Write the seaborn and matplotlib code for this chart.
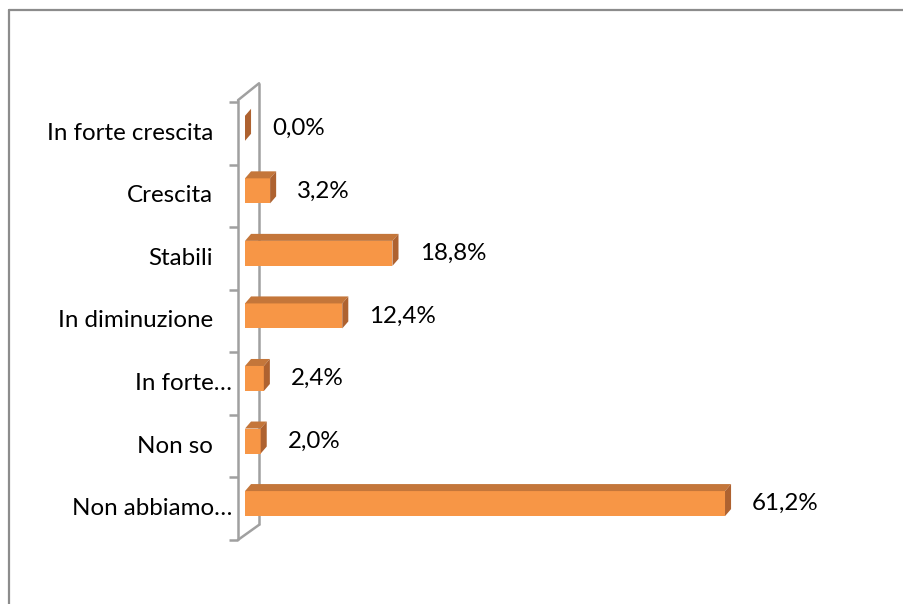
import matplotlib
matplotlib.use("Agg")
import matplotlib.pyplot as plt
from matplotlib.patches import Polygon
from matplotlib.lines import Line2D
import numpy as np
import pandas as pd
import seaborn as sns

# Survey answers and their shares (%)
categories = ["In forte crescita", "Crescita", "Stabili", "In diminuzione",
              "In forte…", "Non so", "Non abbiamo…"]
values = [0.0, 3.2, 18.8, 12.4, 2.4, 2.0, 61.2]

FRONT = "#F79646"
TOP = "#C4763A"
SIDE = "#AE6230"
WALL = "#A0A0A0"
FS = 17.4

sns.set_theme(style="white")
plt.rcParams["font.family"] = ["Lato", "DejaVu Sans"]

fig = plt.figure(figsize=(9.04, 6.04), dpi=100)
ax = fig.add_axes([200 / 904, 44 / 604, 660 / 904, 500 / 604])

df = pd.DataFrame({"categoria": categories, "valore": values})
sns.barplot(data=df, x="valore", y="categoria", orient="h", color=FRONT,
            saturation=1, width=0.4, ax=ax, zorder=3, edgecolor="none")

ax.set_xlim(-5.738, 78.41)
ax.set_ylim(6.902, -1.092)

# pseudo-3D faces on each bar (depth offset in data units)
dx, dy = 0.77, -0.112
for p in ax.patches:
    x0, y0, w, h = p.get_x(), p.get_y(), p.get_width(), p.get_height()
    top = Polygon([(x0, y0), (x0 + w, y0), (x0 + w + dx, y0 + dy), (x0 + dx, y0 + dy)],
                  closed=True, facecolor=TOP, edgecolor="none", zorder=3)
    side = Polygon([(x0 + w, y0), (x0 + w + dx, y0 + dy), (x0 + w + dx, y0 + h + dy),
                    (x0 + w, y0 + h)], closed=True, facecolor=SIDE, edgecolor="none", zorder=3)
    ax.add_patch(top)
    ax.add_patch(side)

# side wall of the category axis
xf, xb = -0.89, 1.79
n = len(categories)
edges = np.arange(n + 1) - 0.42
ax.plot([xf, xf], [-0.45, edges[-1]], color=WALL, lw=1.8, zorder=1, solid_capstyle="butt")
ax.plot([xb, xb], [-0.72, 6.34], color=WALL, lw=1.8, zorder=1, solid_capstyle="butt")
ax.plot([xf, xb], [-0.45, -0.72], color=WALL, lw=1.8, zorder=1)
ax.plot([xf, xb], [edges[-1], 6.34], color=WALL, lw=1.8, zorder=1)
for e in edges:
    ax.plot([-2.04, xf], [e, e], color=WALL, lw=1.8, zorder=1, solid_capstyle="butt")

# category labels
for i, c in enumerate(categories):
    xl = -1.66 if c.endswith("…") else -4.08
    ax.text(xl, i + 0.08, c, ha="right", va="center", fontsize=FS, color="black")

# value labels
labels = [f"{v:.1f}%".replace(".", ",") for v in values]
ax.bar_label(ax.containers[0], labels=labels, padding=19.5, fontsize=FS, color="black")

ax.set_axis_off()

# chart area border
fig.add_artist(Line2D([8.5 / 904, 8.5 / 904], [0, 1 - 9.5 / 604], color="#8C8C8C", lw=1.6,
                      transform=fig.transFigure))
fig.add_artist(Line2D([8.5 / 904, 1], [1 - 9.5 / 604, 1 - 9.5 / 604], color="#8C8C8C", lw=1.6,
                      transform=fig.transFigure))

fig.savefig("out.png", dpi=100)
